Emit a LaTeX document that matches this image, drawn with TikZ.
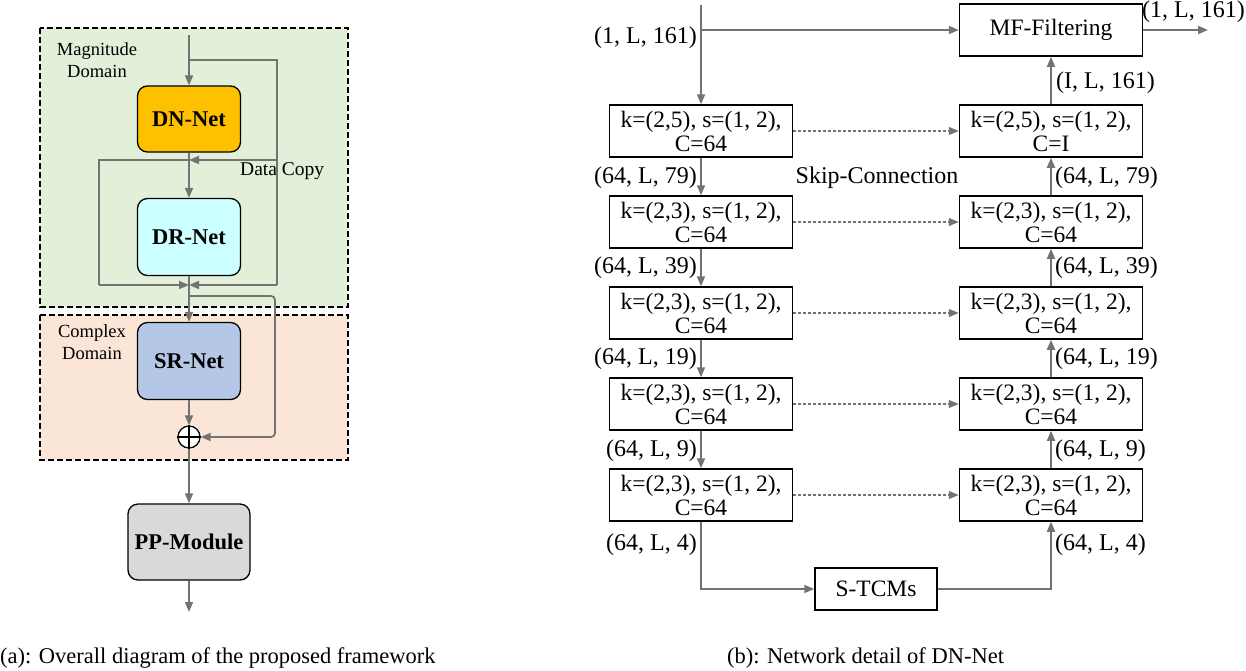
\documentclass[tikz,border=0pt]{standalone}
\usepackage{fontspec}
\setmainfont{Liberation Serif}
\usetikzlibrary{arrows.meta}
\begin{document}
\begin{tikzpicture}[x=1pt,y=-1pt,
  every node/.style={font=\fontsize{24}{25}\selectfont, inner sep=0pt},
  ar/.style={draw=gray!90!black, line width=1.8pt, -{Triangle[length=10pt,width=8pt]}},
  ln/.style={draw=gray!90!black, line width=1.8pt},
  rbox/.style={draw=black, line width=1.3pt, rounded corners=10pt, minimum width=103pt, font=\fontsize{22.5}{24}\selectfont\bfseries},
  cbox/.style={draw=black, line width=1.5pt, minimum width=183pt, minimum height=52pt, align=center, font=\fontsize{23.5}{24}\selectfont},
  lab/.style={font=\fontsize{24}{25}\selectfont},
  sm/.style={font=\fontsize{18.5}{22}\selectfont}]
\useasboundingbox (0,0) rectangle (1246,670);
% left panel
\draw[dashed, line width=1.3pt, dash pattern=on 6pt off 3pt, fill={rgb,255:red,226;green,239;blue,217}] (40,28) rectangle (348,307);
\draw[dashed, line width=1.3pt, dash pattern=on 6pt off 3pt, fill={rgb,255:red,251;green,229;blue,214}] (40,315) rectangle (348,460);
\node[rbox, fill={rgb,255:red,255;green,192;blue,0}, minimum height=66pt] (dn) at (189,119) {DN-Net};
\node[rbox, fill={rgb,255:red,204;green,255;blue,255}, minimum height=77pt] (dr) at (189,237) {DR-Net};
\node[rbox, fill={rgb,255:red,180;green,199;blue,231}, minimum height=77pt] (sr) at (189,361) {SR-Net};
\node[rbox, fill={rgb,255:red,217;green,217;blue,217}, minimum width=122pt, minimum height=76pt] (pp) at (189,542) {PP-Module};
\node[circle, draw=black, line width=1.3pt, minimum size=22pt, fill=white] (add) at (189,437) {};
\draw[line width=1.3pt] (add.north)--(add.south) (add.west)--(add.east);
\coordinate (top) at (189,35);
\coordinate (m1) at (189,160);
\coordinate (m2) at (189,285);
\coordinate (m3) at (189,296);
\coordinate (out) at (189,612);
\node[sm, align=center] at (97,60) {Magnitude\\Domain};
\node[sm, align=center] at (92,342) {Complex\\Domain};
\node[sm, anchor=west, font=\fontsize{19.5}{22}\selectfont] at (240,171) {Data Copy};
\draw[ar] (top) -- (dn.north);
\draw[ln] (dn.south) -- (m1);
\draw[ar] (m1) -- (dr.north);
\draw[ln] (189,60) -- (277,60) -- (277,285);
\draw[ar] (277,285) -- (m2);
\draw[ar] (277,160) -- (m1);
\draw[ln] (m1) -- (99,160) -- (99,285);
\draw[ar] (99,285) -- (m2);
\draw[ln] (dr.south) -- (m2);
\draw[ar] (m2) -- (sr.north);
\draw[ar, rounded corners=4pt] (m3) -- (275,296) -- (275,437) -- (add.east);
\draw[ar] (sr.south) -- (add.north);
\draw[ar] (add.south) -- (pp.north);
\draw[ar] (pp.south) -- (out);
\node[lab, anchor=west, font=\fontsize{22.5}{24}\selectfont] at (0,658) {(a): Overall diagram of the proposed framework};
\node[lab, anchor=west, font=\fontsize{22.5}{24}\selectfont] at (727,658) {(b): Network detail of DN-Net};
% right panel
\node[cbox] (mf) at (1051,30) {MF-Filtering};
\foreach \i/\y/\k/\c in {1/131/5/I,2/222/3/64,3/313/3/64,4/404/3/64,5/495/3/64}{
  \node[cbox] (e\i) at (701,\y) {k=(2,\k), s=(1, 2),\\C=64};
  \node[cbox] (d\i) at (1051,\y) {k=(2,\k), s=(1, 2),\\C=\c};
  \draw[ar, line width=1.2pt, dash pattern=on 3pt off 2pt] (e\i) -- (d\i);
}
\coordinate (in) at (701,5);
\coordinate (inb) at (701,30);
\draw[ln] (in) -- (inb);
\draw[ar] (inb) -- (mf.west);
\draw[ar] (inb) -- (e1.north);
\foreach \a/\b in {1/2,2/3,3/4,4/5}{
  \draw[ar] (e\a) -- (e\b);
  \draw[ar] (d\b) -- (d\a);
}
\draw[ar] (d1) -- (mf);
\coordinate (mfo) at (1208,30);
\draw[ar] (mf.east) -- (mfo);
\node[cbox, minimum width=122pt, minimum height=42pt] (tcm) at (876,589) {S-TCMs};
\draw[ar] (e5.south) |- (tcm.west);
\draw[ar] (tcm.east) -| (d5.south);
\node[lab, anchor=east] at (697,38) {(1, L, 161)};
\node[lab, anchor=north east] at (1245,1) {(1, L, 161)};
\node[lab, anchor=west] at (1056,83) {(I, L, 161)};
\node[lab] at (877,178) {Skip-Connection};
\foreach \y/\t in {178/79,268/39,359/19,451/9,545/4}{
  \node[lab, anchor=east] at (697,\y) {(64, L, \t)};
  \node[lab, anchor=west] at (1055,\y) {(64, L, \t)};
}
\end{tikzpicture}
\end{document}
